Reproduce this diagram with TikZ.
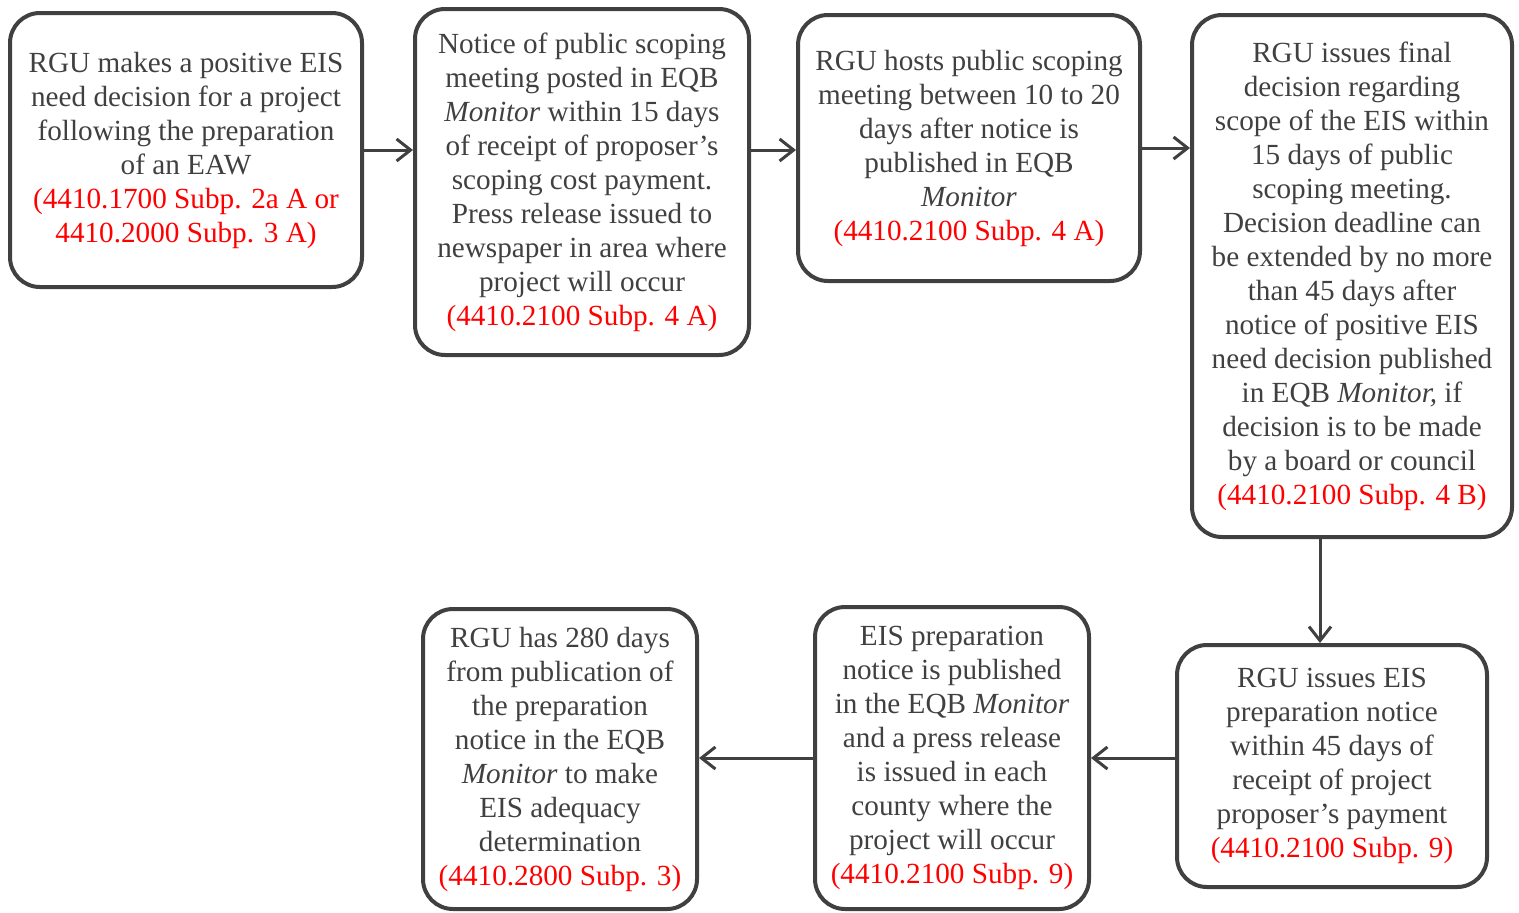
\documentclass[tikz,border=0pt]{standalone}
\usepackage{fontspec}
\setmainfont{Liberation Serif}
\usetikzlibrary{arrows.meta}
\definecolor{boxgray}{HTML}{404040}
\definecolor{txtgray}{HTML}{404040}
\newcommand{\rref}[1]{\textcolor{red}{#1}}
\tikzset{
  stepbox/.style={draw=boxgray, line width=2pt, rounded corners=15pt,
    align=center, text=txtgray, inner sep=0pt,
    font=\fontsize{14.6}{17}\selectfont},
  flow/.style={draw=boxgray, line width=1.5pt,
    -{Straight Barb[length=7pt, width=11pt, line width=1.5pt]}}
}
\begin{document}
\begin{tikzpicture}[x=0.5pt, y=-0.5pt]
    \useasboundingbox (0,0) rectangle (1519,912);
    % top row
    \node[stepbox, minimum width=176pt, minimum height=137pt] (b1) at (186,150)
      {RGU makes a positive EIS\\need decision for a project\\following the preparation\\of an EAW\\
       \rref{(4410.1700 Subp. 2a A or}\\\rref{4410.2000 Subp. 3 A)}};
    \node[stepbox, minimum width=167pt, minimum height=173pt] (b2) at (582,182)
      {Notice of public scoping\\meeting posted in EQB\\\textit{Monitor} within 15 days\\of receipt of proposer’s\\
       scoping cost payment.\\Press release issued to\\newspaper in area where\\project will occur\\
       \rref{(4410.2100 Subp. 4 A)}};
    \node[stepbox, minimum width=171pt, minimum height=133pt] (b3) at (969,148)
      {RGU hosts public scoping\\meeting between 10 to 20\\days after notice is\\published in EQB\\\textit{Monitor}\\
       \rref{(4410.2100 Subp. 4 A)}};
    \node[stepbox, minimum width=160pt, minimum height=261pt] (b4) at (1352,276)
      {RGU issues final\\decision regarding\\scope of the EIS within\\15 days of public\\scoping meeting.\\
       Decision deadline can\\be extended by no more\\than 45 days after\\notice of positive EIS\\
       need decision published\\in EQB \textit{Monitor,} if\\decision is to be made\\by a board or council\\
       \rref{(4410.2100 Subp. 4 B)}};
    % bottom row
    \node[stepbox, minimum width=155pt, minimum height=121pt] (b5) at (1332,766)
      {RGU issues EIS\\preparation notice\\within 45 days of\\receipt of project\\proposer’s payment\\
       \rref{(4410.2100 Subp. 9)}};
    \node[stepbox, minimum width=137pt, minimum height=151pt] (b6) at (952,758)
      {EIS preparation\\notice is published\\in the EQB \textit{Monitor}\\and a press release\\is issued in each\\
       county where the\\project will occur\\\rref{(4410.2100 Subp. 9)}};
    \node[stepbox, minimum width=137pt, minimum height=150pt] (b7) at (560,759)
      {RGU has 280 days\\from publication of\\the preparation\\notice in the EQB\\\textit{Monitor} to make\\
       EIS adequacy\\determination\\\rref{(4410.2800 Subp. 3)}};
    % connectors
    \draw[flow] (b1.east) -- (b1.east -| b2.west);
    \draw[flow] (b1.east -| b2.east) -- (b1.east -| b3.west);
    \draw[flow] (b3.east) -- (b3.east -| b4.west);
    \coordinate (d5) at ([xshift=-6pt]b5.north);
    \draw[flow] (d5 |- b4.south) -- (d5);
    \draw[flow] (b5.west |- b6.east) -- (b6.east);
    \draw[flow] (b6.west) -- (b6.west -| b7.east);
\end{tikzpicture}
\end{document}
